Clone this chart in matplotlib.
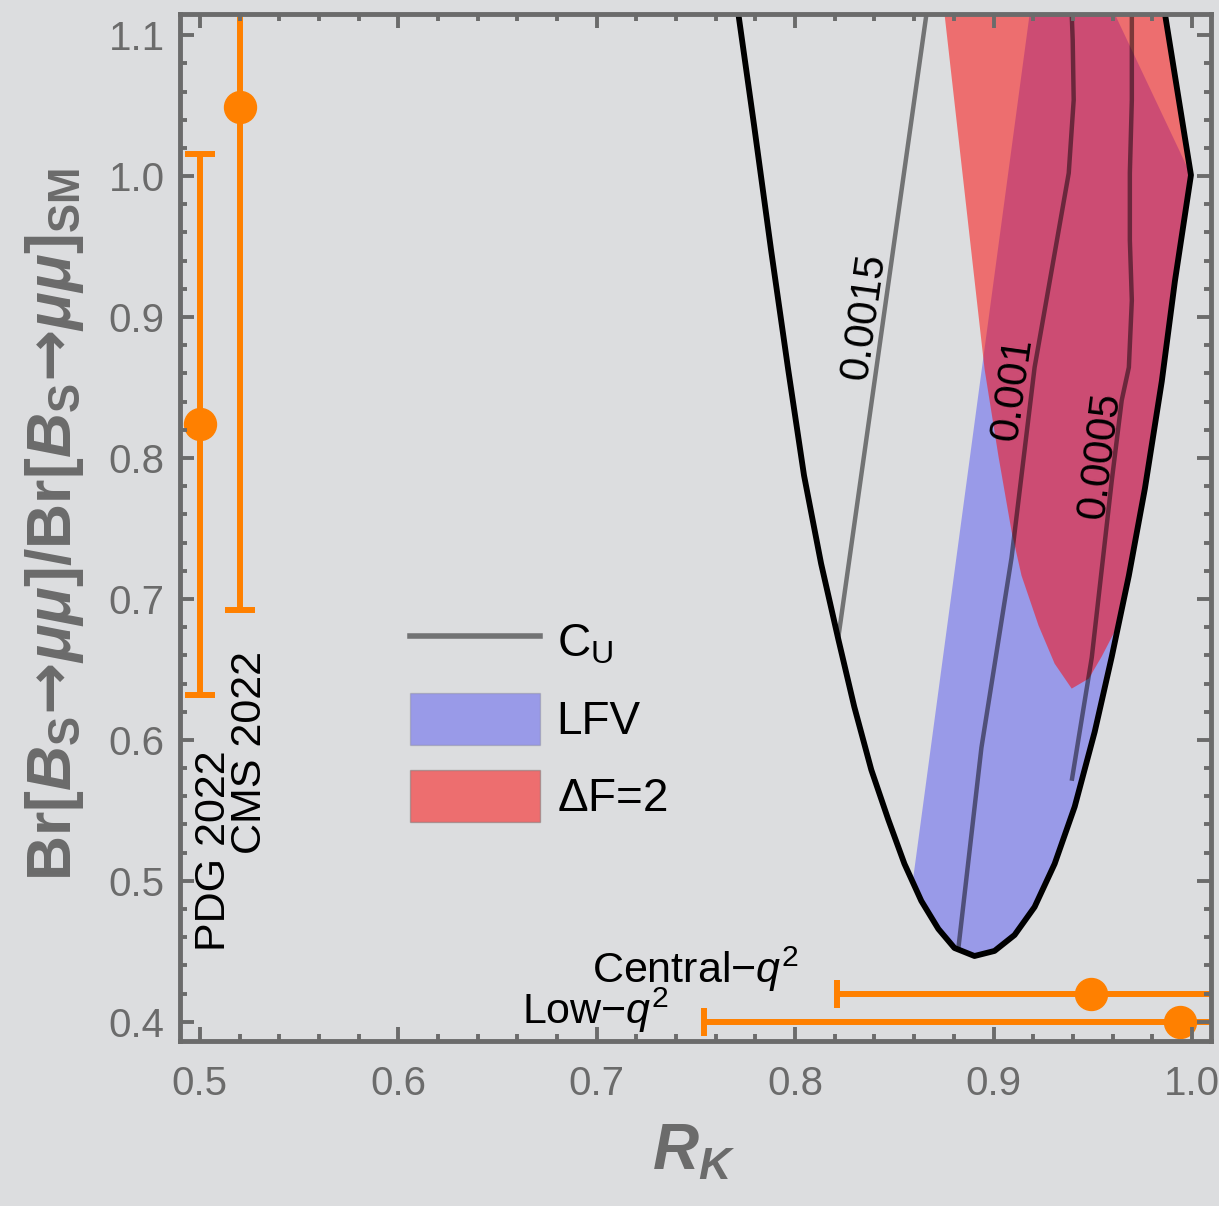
import matplotlib
matplotlib.use("Agg")
import matplotlib.pyplot as plt
from matplotlib.patches import Polygon, Patch
from matplotlib.lines import Line2D

# ---- data ----
# black boundary curve (R_K, Br ratio)
bound_x = [0.7714, 0.7793, 0.7879, 0.7965, 0.8045, 0.8131, 0.8217, 0.8298, 0.8384, 0.8470,
           0.8551, 0.8636, 0.8722, 0.8803, 0.8904, 0.9005, 0.9106, 0.9207, 0.9308, 0.9409,
           0.9510, 0.9596, 0.9682, 0.9763, 0.9848, 0.9914, 0.9995, 0.9864]
bound_y = [1.1151, 1.0362, 0.9474, 0.8629, 0.7876, 0.7251, 0.6719, 0.6236, 0.5788, 0.5433,
           0.5121, 0.4858, 0.4659, 0.4524, 0.4467, 0.4503, 0.4616, 0.4815, 0.5121, 0.5526,
           0.6058, 0.6591, 0.7166, 0.7784, 0.8544, 0.9254, 1.0007, 1.1151]

# C_U contours
cu0015_x = [0.8217, 0.8662]
cu0015_y = [0.6719, 1.1150]
cu001_x = [0.8823, 0.8939, 0.9091, 0.9207, 0.9379, 0.9404, 0.9399, 0.9394]
cu001_y = [0.4524, 0.5945, 0.7294, 0.8643, 1.0021, 1.0540, 1.0966, 1.1150]
cu0005_x = [0.9394, 0.9495, 0.9596, 0.9646, 0.9682, 0.9697, 0.9687, 0.9687, 0.9697, 0.9697]
cu0005_y = [0.5710, 0.6584, 0.7841, 0.8409, 0.8643, 0.9119, 0.9545, 1.0021, 1.0540, 1.1150]
cu_labels = ["0.0015", "0.001", "0.0005"]
cu_label_x = [0.8348, 0.9096, 0.9540]
cu_label_y = [0.9006, 0.8487, 0.8018]
cu_label_rot = [82, 82, 83]

# LFV region
lfv_x = [0.8596, 0.9182, 0.9611, 0.9995, 0.9914, 0.9848, 0.9763, 0.9682, 0.9596, 0.9510, 0.9409,
         0.9308, 0.9207, 0.9106, 0.9005, 0.8904, 0.8803, 0.8722, 0.8636]
lfv_y = [0.5028, 1.1150, 1.1150, 1.0007, 0.9254, 0.8544, 0.7784, 0.7166, 0.6591, 0.6058, 0.5526,
         0.5121, 0.4815, 0.4616, 0.4503, 0.4467, 0.4524, 0.4659, 0.4858]

# Delta F = 2 region
df2_x = [0.8753, 0.8955, 0.9025, 0.9091, 0.9141, 0.9227, 0.9308, 0.9394, 0.9480, 0.9545, 0.9626,
         0.9682, 0.9763, 0.9848, 0.9914, 0.9995, 0.9864]
df2_y = [1.1150, 0.8629, 0.8011, 0.7479, 0.7166, 0.6811, 0.6541, 0.6364, 0.6435, 0.6591, 0.6811,
         0.7166, 0.7784, 0.8544, 0.9254, 1.0007, 1.1151]

# Bs -> mu mu measurements
bs_names = ["PDG 2022", "CMS 2022"]
bs_x = [0.500, 0.520]
bs_y = [0.824, 1.049]
bs_err = [0.192, 0.357]
bs_label_x = [0.5071, 0.5253]
bs_label_y = [0.5213, 0.5909]

# R_K measurements
rk_names = [r"Central$-q^2$", r"Low$-q^2$"]
rk_x = [0.949, 0.994]
rk_y = [0.420, 0.400]
rk_err = [0.128, 0.240]
rk_label_x = [0.7497, 0.6995]
rk_label_y = [0.4276, 0.3984]

# ---- style ----
bg = "#dcdddf"
frame = "#6b6b6b"
orange = "#ff8000"
plt.rcParams["font.family"] = ["Liberation Sans", "DejaVu Sans"]
plt.rcParams["mathtext.fontset"] = "custom"
plt.rcParams["mathtext.rm"] = "Liberation Sans"
plt.rcParams["mathtext.it"] = "Liberation Sans:italic"
plt.rcParams["mathtext.bf"] = "Liberation Sans:bold"
plt.rcParams["mathtext.bfit"] = "Liberation Sans:italic:bold"
plt.rcParams["mathtext.sf"] = "DejaVu Sans:bold"   # only used for the bold arrow
plt.rcParams["mathtext.fallback"] = "stixsans"

fig = plt.figure(figsize=(12.19, 12.06), dpi=100, facecolor=bg)
ax = fig.add_axes([180 / 1219, 1 - 1041 / 1206, 1031 / 1219, 1027 / 1206])
ax.set_facecolor(bg)

# regions
ax.add_patch(Polygon(list(zip(lfv_x, lfv_y)), closed=True, facecolor="blue", alpha=0.3,
                     edgecolor="none", zorder=1))
ax.add_patch(Polygon(list(zip(df2_x, df2_y)), closed=True, facecolor="red", alpha=0.5,
                     edgecolor="none", zorder=1.1))

# C_U lines
for xs, ys in [(cu0015_x, cu0015_y), (cu001_x, cu001_y), (cu0005_x, cu0005_y)]:
    ax.plot(xs, ys, color="k", alpha=0.48, lw=3.2, solid_capstyle="butt", zorder=1.5)
for t, x, y, r in zip(cu_labels, cu_label_x, cu_label_y, cu_label_rot):
    ax.text(x, y, t, rotation=r, rotation_mode="anchor", ha="center", va="center",
            fontsize=30, color="k")

# boundary
ax.plot(bound_x, bound_y, color="k", lw=4.2, zorder=1.8, solid_joinstyle="round")

# error bars
ax.errorbar(bs_x, bs_y, yerr=bs_err, fmt="o", color=orange, ms=23, elinewidth=4.3,
            capsize=11, capthick=4.3, zorder=2)
ax.errorbar(rk_x, rk_y, xerr=rk_err, fmt="o", color=orange, ms=23, elinewidth=4.3,
            capsize=10, capthick=4.3, zorder=2)
for t, x, y in zip(bs_names, bs_label_x, bs_label_y):
    ax.text(x, y, t, rotation=90, ha="center", va="center", fontsize=31, color="k")
for t, x, y in zip(rk_names, rk_label_x, rk_label_y):
    ax.text(x, y, t, ha="center", va="baseline", fontsize=31, color="k")

# axes
ax.set_xlim(0.49, 1.0096)
ax.set_ylim(0.3864, 1.115)
ax.set_xticks([0.5, 0.6, 0.7, 0.8, 0.9, 1.0])
ax.set_xticklabels(["0.5", "0.6", "0.7", "0.8", "0.9", "1.0"])
ax.set_yticks([0.4, 0.5, 0.6, 0.7, 0.8, 0.9, 1.0, 1.1])
ax.set_yticklabels(["0.4", "0.5", "0.6", "0.7", "0.8", "0.9", "1.0", "1.1"])
ax.set_xticks([0.5 + 0.02 * i for i in range(26)], minor=True)
ax.set_yticks([0.4 + 0.02 * i for i in range(36)], minor=True)
ax.tick_params(which="both", direction="in", top=True, right=True, color=frame,
               labelcolor=frame, labelsize=29)
ax.tick_params(which="major", length=10, width=2.8)
ax.tick_params(which="minor", length=5, width=2.8)
ax.tick_params(axis="x", pad=17)
ax.tick_params(axis="y", pad=11)
for s in ax.spines.values():
    s.set_color(frame)
    s.set_linewidth(3.5)
ax.set_axisbelow(False)

# legend
handles = [Line2D([], [], color="k", alpha=0.48, lw=4),
           Patch(facecolor="blue", alpha=0.3, edgecolor="#777777", lw=1),
           Patch(facecolor="red", alpha=0.5, edgecolor="#777777", lw=1)]
ax.legend(handles, [r"C$_\mathrm{U}$", "LFV", r"$\Delta$F=2"], loc="upper left",
          bbox_to_anchor=(0.223, 0.4142), frameon=False, fontsize=33, borderpad=0,
          borderaxespad=0, handlelength=2.83, handleheight=1.37, handletextpad=0.37,
          labelspacing=0.55)

# axis labels
fig.text(694 / 1219, 36 / 1206, r"$\boldsymbol{R}_{\boldsymbol{K}}$", ha="center",
         va="baseline", fontsize=46, color=frame)
ylab = (r"$\mathbf{Br[}\boldsymbol{B}_\mathbf{S}\mathsf{→}\boldsymbol{\mu\mu}"
        r"\mathbf{]/Br[}\boldsymbol{B}_\mathbf{S}\mathsf{→}\boldsymbol{\mu\mu}"
        r"\mathbf{]}_\mathbf{SM}$")
fig.text(55 / 1219, 0.5655, ylab, rotation=90, ha="center", va="center", fontsize=45,
         color=frame)

fig.savefig("out.png", dpi=100, facecolor=bg)
